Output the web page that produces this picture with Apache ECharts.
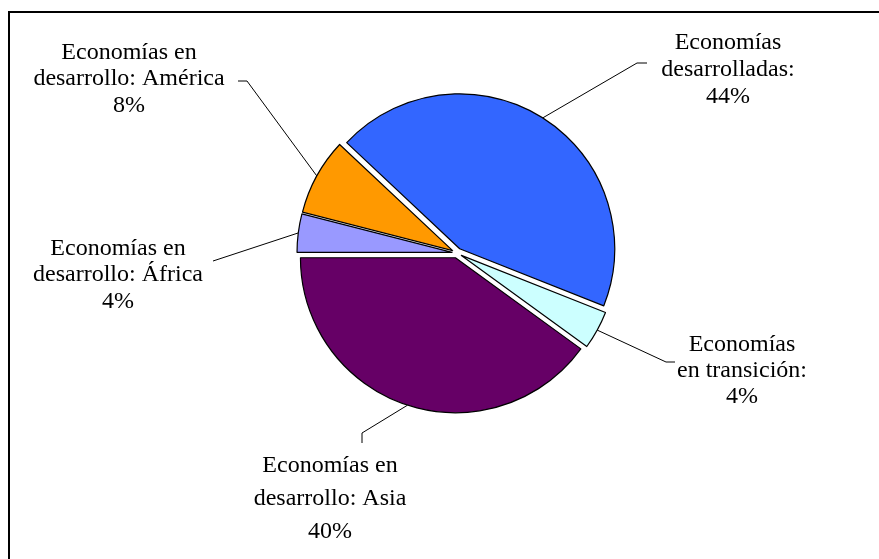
<!DOCTYPE html>
<html>
<head>
<meta charset="utf-8">
<script src="https://cdn.jsdelivr.net/npm/echarts@6/dist/echarts.min.js"></script>
<style>
html,body{margin:0;padding:0;background:#fff;}
#chart{width:879px;height:559px;}
</style>
</head>
<body>
<div id="chart"></div>
<script>
// ---- data ----
const categories = [
  'Economías\ndesarrolladas:',
  'Economías\nen transición:',
  'Economías en\ndesarrollo: Asia',
  'Economías en\ndesarrollo: África',
  'Economías en\ndesarrollo: América'
];
const values = [44, 4, 40, 4, 8];
const colors = ['#3366FF', '#CCFFFF', '#660066', '#9999FF', '#FF9900'];

// ---- layout (not data) ----
const CX = 457, CY = 253, R = 155, OFFSET = 5, START = 136.8;
const labelPos = [
  { x: 728, y: 70, lh: 27, line: [[637, 63], [647, 63]] },
  { x: 742, y: 371, lh: 26, line: [[666, 362], [675, 362]] },
  { x: 330, y: 499, lh: 33, line: [[362, 433], [362, 443]] },
  { x: 118, y: 275, lh: 26.5, line: [[213, 261], [213, 261]] },
  { x: 129, y: 79, lh: 26.5, line: [[247, 81], [238, 81]] }
];
const FONT = '24px "Liberation Serif", "Times New Roman", serif';

const total = values.reduce((a, b) => a + b, 0);
const midAngles = [];
let acc = START;
values.forEach(v => {
  const span = v / total * 360;
  midAngles.push(acc - span / 2);
  acc -= span;
});

const graphics = [{
  type: 'rect',
  shape: { x: 9, y: 12, width: 900, height: 600 },
  style: { fill: 'none', stroke: '#000', lineWidth: 2 },
  silent: true
}];
categories.forEach((c, i) => {
  const lp = labelPos[i];
  const a = midAngles[i] * Math.PI / 180;
  const start = [CX + (R + OFFSET) * Math.cos(a), CY - (R + OFFSET) * Math.sin(a)];
  const pct = Math.round(values[i] / total * 100);
  graphics.push({
    type: 'polyline',
    shape: { points: [start, lp.line[0], lp.line[1]] },
    style: { stroke: '#000', lineWidth: 1, fill: 'none' },
    silent: true
  });
  graphics.push({
    type: 'text',
    x: lp.x, y: lp.y,
    style: {
      text: c + '\n' + pct + '%',
      font: FONT,
      fill: '#000',
      align: 'center',
      verticalAlign: 'middle',
      lineHeight: lp.lh
    },
    silent: true
  });
});

const chart = echarts.init(document.getElementById('chart'), null, { renderer: 'canvas' });
chart.setOption({
  animation: false,
  backgroundColor: '#fff',
  graphic: graphics,
  series: [{
    type: 'pie',
    center: [CX, CY],
    radius: R,
    startAngle: START,
    clockwise: true,
    selectedMode: 'multiple',
    selectedOffset: OFFSET,
    silent: true,
    itemStyle: { borderColor: '#000', borderWidth: 1.2 },
    emphasis: { disabled: true },
    label: { show: false },
    labelLine: { show: false },
    data: categories.map((c, i) => ({
      name: c,
      value: values[i],
      selected: true,
      itemStyle: { color: colors[i] },
      select: { itemStyle: { color: colors[i], borderColor: '#000', borderWidth: 1.2 } }
    }))
  }]
});
</script>
</body>
</html>
